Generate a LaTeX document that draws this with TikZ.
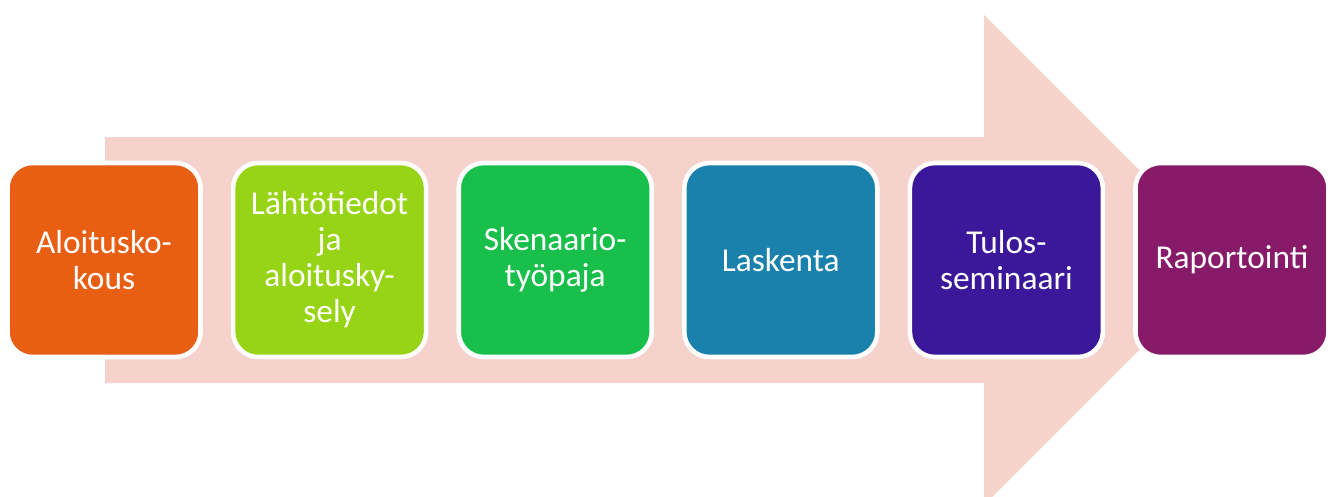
\documentclass[tikz,border=0pt]{standalone}
\usepackage{fontspec}
\setmainfont{Carlito}
\definecolor{flowpink}{HTML}{F6D2CD}
\definecolor{c1}{HTML}{E85E12}
\definecolor{c2}{HTML}{97D416}
\definecolor{c3}{HTML}{19BF4B}
\definecolor{c4}{HTML}{1A81AD}
\definecolor{c5}{HTML}{3B1899}
\definecolor{c6}{HTML}{871A69}
\tikzset{stage/.style={draw=white,line width=2.6pt,rounded corners=0.5cm,
    minimum width=3.86cm,minimum height=3.88cm,align=center,text=white,
    font=\fontsize{19}{20.5}\selectfont}}
\begin{document}
\begin{tikzpicture}[x=0.02cm,y=-0.02cm]
    \useasboundingbox (0,0) rectangle (1333,497);
    % big arrow behind the stages
    \fill[flowpink] (105,137) -- (984,137) -- (984,15) -- (1229,260)
      -- (984,505) -- (984,383) -- (105,383) -- cycle;
    \foreach \i/\col/\txt in {1/c1/{Aloitusko-\\kous},
        2/c2/{Lähtötiedot\\ja\\aloitusky-\\sely},
        3/c3/{Skenaario-\\työpaja},4/c4/{Laskenta},
        5/c5/{Tulos-\\seminaari},6/c6/{Raportointi}}
      \node[stage,fill=\col] (s\i) at ({104+225.6*(\i-1)},260) {\txt};
  \end{tikzpicture}
\end{document}
